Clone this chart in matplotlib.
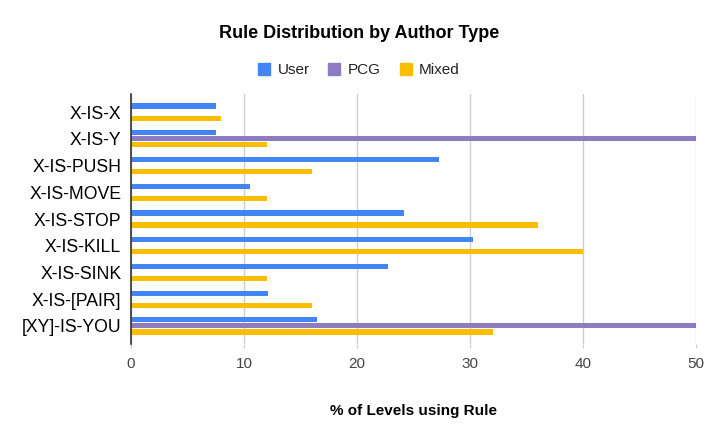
import matplotlib
matplotlib.use("Agg")
import matplotlib.pyplot as plt
import numpy as np
from matplotlib.lines import Line2D

plt.rcParams['font.family'] = ['Liberation Sans', 'DejaVu Sans']

categories = ["X-IS-X", "X-IS-Y", "X-IS-PUSH", "X-IS-MOVE", "X-IS-STOP",
              "X-IS-KILL", "X-IS-SINK", "X-IS-[PAIR]", "[XY]-IS-YOU"]
user = [7.5, 7.5, 27.3, 10.5, 24.2, 30.3, 22.7, 12.1, 16.5]
pcg = [0, 50, 0, 0, 0, 0, 0, 0, 50]
mixed = [8, 12, 16, 12, 36, 40, 12, 16, 32]
series_names = ["User", "PCG", "Mixed"]
colors = ["#4285F4", "#8E7CC3", "#FBBC04"]
xticks = [0, 10, 20, 30, 40, 50]

fig = plt.figure(figsize=(7.18, 4.42), dpi=100)
ax = fig.add_axes([131/718, 1-344/442, (696-131)/718, (344-94)/442])

y = np.arange(len(categories))
off = 0.225
h = 0.19
for i, (vals, c) in enumerate(zip([user, pcg, mixed], colors)):
    vals = np.array(vals, dtype=float)
    mask = vals > 0
    ax.barh(y[mask] + (i - 1) * off, vals[mask], height=h, color=c, zorder=3)

ax.set_xlim(0, 50)
ax.set_ylim(len(categories) - 1 + 0.675, -0.675)
ax.set_yticks(y)
ax.set_yticklabels(categories, fontsize=12.7, color="#000000")
ax.set_xticks(xticks)
ax.set_xticklabels([str(t) for t in xticks], fontsize=11, color="#444444")
ax.tick_params(axis='y', length=0, pad=7)
ax.tick_params(axis='x', length=3, color="#cccccc", pad=6)
ax.grid(axis='x', color="#cccccc", linewidth=1, zorder=0)
for s in ['top', 'right', 'bottom']:
    ax.spines[s].set_visible(False)
ax.spines['left'].set_color("#333333")
ax.spines['left'].set_linewidth(1.2)
ax.spines['left'].set_zorder(4)

ax.set_xlabel("% of Levels using Rule", fontsize=11, fontweight='bold', labelpad=24)

fig.text(0.5, 1-34/442, "Rule Distribution by Author Type", ha='center', va='center',
         fontsize=13, fontweight='bold')

handles = [Line2D([0], [0], marker='s', linestyle='none', markersize=9,
                  markerfacecolor=c, markeredgecolor=c) for c in colors]
fig.legend(handles, series_names, loc='center', bbox_to_anchor=(0.5, 1-70/442),
           ncol=3, frameon=False, fontsize=11, handlelength=0.8, handletextpad=0.5,
           columnspacing=1.2, labelcolor="#222222")

fig.savefig("out.png", dpi=100)
